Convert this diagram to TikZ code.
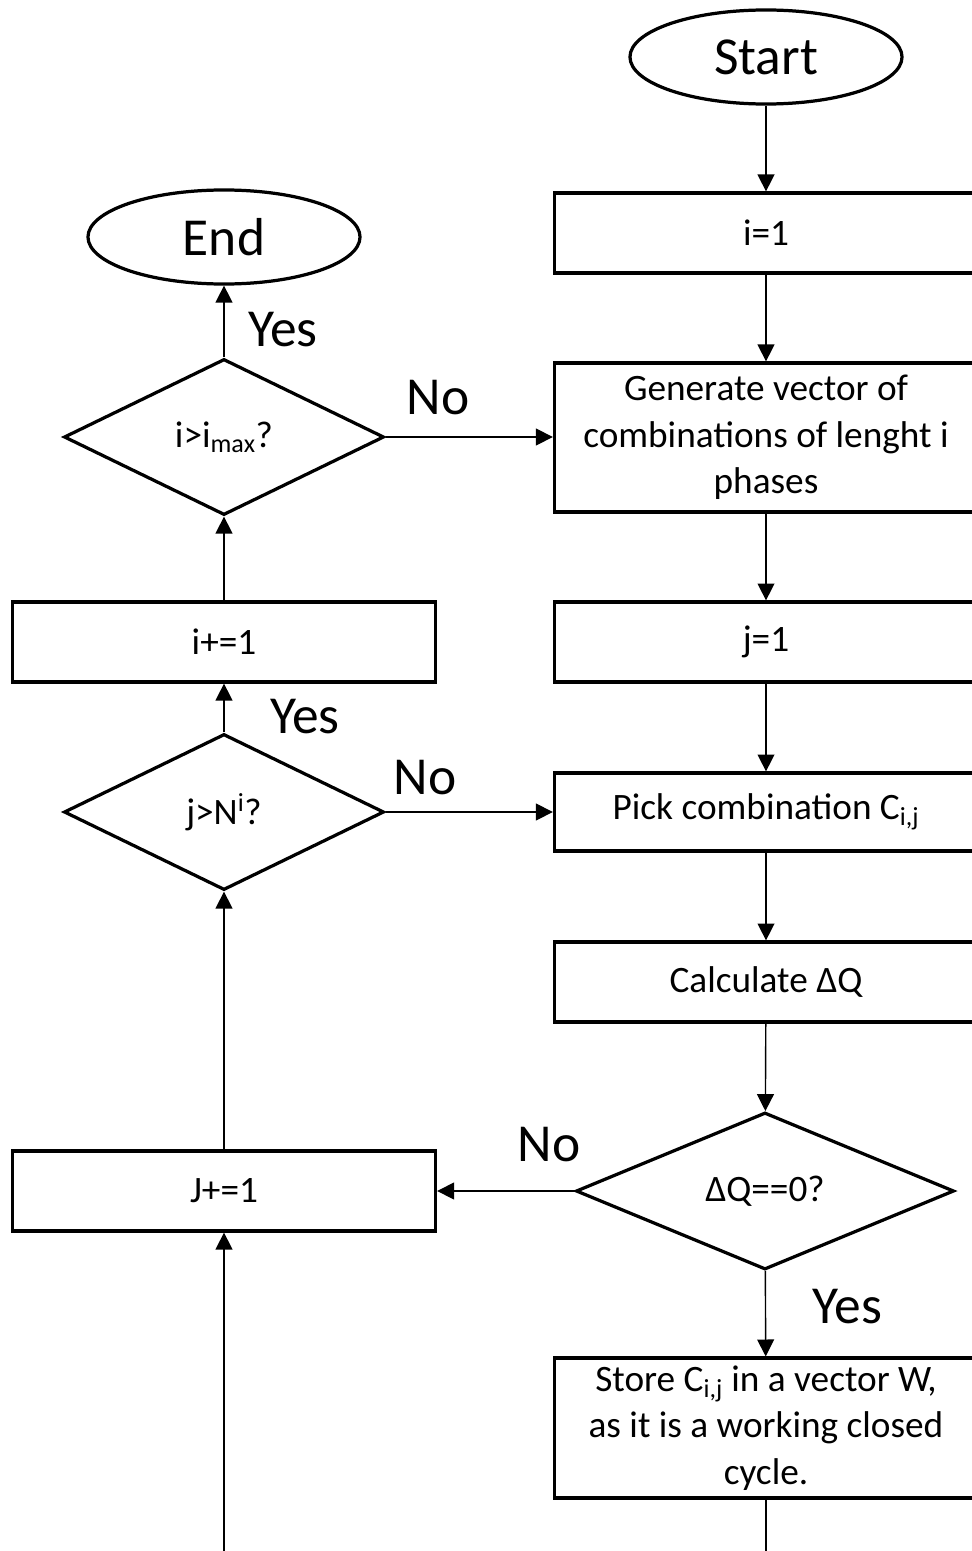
\documentclass[tikz,border=0pt]{standalone}
\usepackage{fontspec}
\setmainfont{Carlito}
\usetikzlibrary{shapes.geometric,arrows.meta}

\begin{document}
\begin{tikzpicture}[x=0.025cm,y=-0.025cm,
    box/.style={draw,line width=2.3pt,minimum width=10.575cm,minimum height=2cm,align=center,font=\fontsize{26.5}{33}\selectfont},
    term/.style={draw,ellipse,line width=2.3pt,minimum width=6.8cm,minimum height=2.35cm,font=\fontsize{38}{40}\selectfont},
    test/.style={draw,diamond,line width=2.3pt,minimum width=8cm,minimum height=3.9cm,inner sep=0pt,font=\fontsize{26.5}{33}\selectfont},
    lbl/.style={font=\fontsize{38}{40}\selectfont},
    arr/.style={-{Triangle[length=12pt,width=12pt]},line width=1pt}]
      \clip (0,0) rectangle (972,1551);
      % right column
      \node[term] (start) at (766,57) {Start};
      \node[box] (init i) at (766,233) {i=1};
      \node[box,minimum height=3.725cm] (gen) at (766,437.5) {Generate vector of\\combinations of lenght i\\phases};
      \node[box] (init j) at (766,642) {j=1};
      \node[box,minimum height=1.95cm] (pick) at (766,812) {Pick combination C\textsubscript{i,j}};
      \node[box] (calc) at (766,982) {Calculate ΔQ};
      \node[test,minimum width=9.45cm,minimum height=3.925cm] (zero) at (765,1191) {ΔQ==0?};
      \node[box,minimum height=3.5cm] (store) at (766,1428) {Store C\textsubscript{i,j} in a vector W,\\as it is a working closed\\cycle.};
      % left column
      \node[term] (end) at (224,237) {End};
      \node[test] (imax) at (224,437) {i>i\textsubscript{max}?};
      \node[box] (inc i) at (224,642) {i+=1};
      \node[test] (jmax) at (224,812) {j>N\textsuperscript{i}?};
      \node[box] (inc j) at (224,1191) {J+=1};
      \coordinate (out) at (766,1560);
      \coordinate (back) at (224,1560);
      % labels
      \node[lbl] (yes end) at (283,330) {Yes};
      \node[lbl] (no gen) at (438,398) {No};
      \node[lbl] (yes inc) at (305,717) {Yes};
      \node[lbl] (no pick) at (425,778) {No};
      \node[lbl] (no inc) at (549,1145) {No};
      \node[lbl] (yes store) at (847,1307) {Yes};
      % connectors
      \draw[arr] (start) -- (init i);
      \draw[arr] (init i) -- (gen);
      \draw[arr] (gen) -- (init j);
      \draw[arr] (init j) -- (pick);
      \draw[arr] (pick) -- (calc);
      \draw[arr] (calc) -- (zero);
      \draw[arr] (zero) -- (store);
      \draw[line width=1pt] (store) -- (out);
      \draw[arr] (zero.west) -- (inc j.east);
      \draw[arr] (back) -- (inc j);
      \draw[arr] (inc j) -- (jmax);
      \draw[arr] (jmax) -- (inc i);
      \draw[arr] (jmax.east) -- (pick.west);
      \draw[arr] (inc i) -- (imax);
      \draw[arr] (imax) -- (end);
      \draw[arr] (imax.east) -- (imax.east -| gen.west);
\end{tikzpicture}
\end{document}
